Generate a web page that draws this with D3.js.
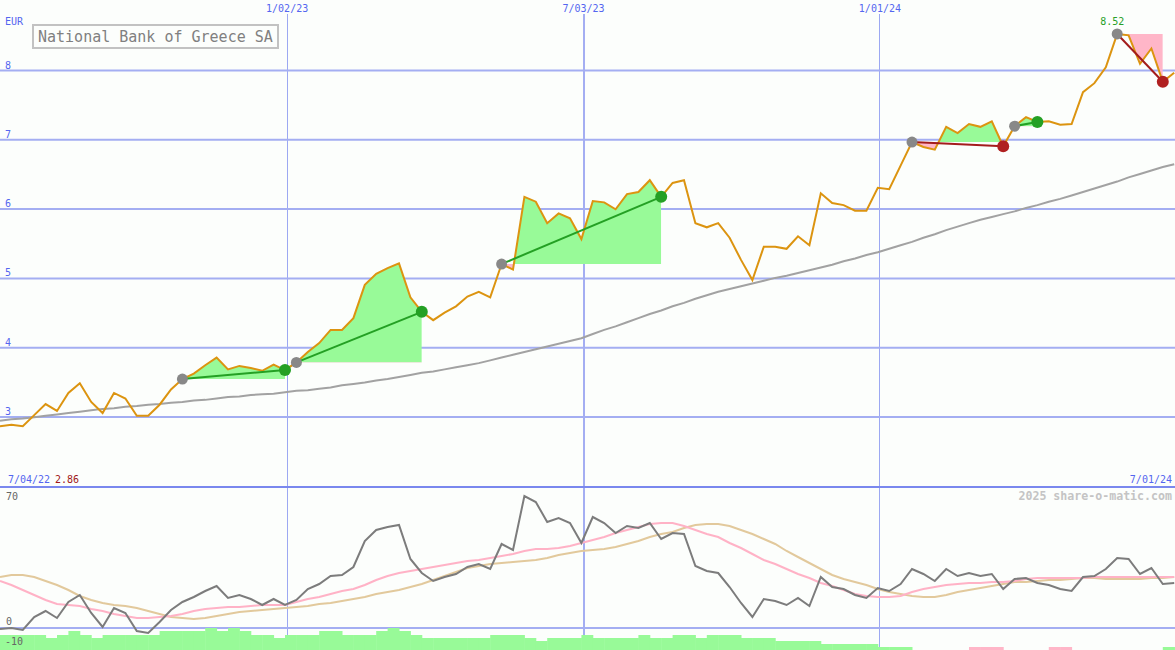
<!DOCTYPE html>
<html>
<head>
<meta charset="utf-8">
<script src="https://cdn.jsdelivr.net/npm/d3@7"></script>
<style>
  html, body { margin: 0; padding: 0; background: #fcfefc; }
  svg { display: block; }
  text { font-family: "DejaVu Sans Mono", monospace; }
</style>
</head>
<body>
<svg id="chart" width="1175" height="650"></svg>
<script>
// ---------------- DATA ----------------
const title = "National Bank of Greece SA";
const currency = "EUR";
const startDateLabel = "7/04/22";
const endDateLabel = "7/01/24";
const minLabel = "2.86";
const maxLabel = "8.52";
const watermark = "2025 share-o-matic.com";

// weekly closing prices (EUR)
const priceValues = [
  2.86,2.88,2.86,3.02,3.18,3.08,3.34,3.48,3.21,3.05,
  3.34,3.26,3.01,3.01,3.17,3.39,3.54,3.62,3.74,3.85,
  3.68,3.73,3.70,3.66,3.75,3.67,3.78,3.93,4.06,4.25,
  4.25,4.42,4.90,5.06,5.14,5.21,4.72,4.51,4.39,4.50,
  4.59,4.73,4.80,4.72,5.20,5.12,6.17,6.10,5.79,5.93,
  5.86,5.56,6.11,6.09,5.99,6.21,6.24,6.41,6.17,6.37,
  6.41,5.79,5.73,5.79,5.58,5.26,4.97,5.45,5.45,5.42,
  5.60,5.47,6.22,6.08,6.05,5.97,5.97,6.30,6.28,6.62,
  6.96,6.89,6.85,7.18,7.09,7.22,7.18,7.26,6.90,7.19,
  7.32,7.25,7.26,7.21,7.22,7.68,7.81,8.04,8.52,8.50,
  8.09,8.31,7.83,7.96
];

// long moving average (grey)
const maValues = [
  2.94,2.96,2.97,2.99,3.01,3.03,3.05,3.07,3.09,3.11,
  3.12,3.14,3.15,3.17,3.18,3.20,3.21,3.23,3.24,3.26,
  3.28,3.29,3.31,3.32,3.33,3.35,3.37,3.38,3.40,3.42,
  3.45,3.47,3.49,3.52,3.54,3.57,3.60,3.63,3.65,3.68,
  3.71,3.74,3.77,3.81,3.85,3.89,3.93,3.97,4.01,4.05,
  4.09,4.13,4.19,4.25,4.30,4.36,4.42,4.48,4.53,4.59,
  4.64,4.70,4.75,4.80,4.84,4.88,4.92,4.96,5.00,5.03,
  5.07,5.11,5.15,5.19,5.24,5.28,5.33,5.37,5.42,5.47,
  5.52,5.58,5.63,5.69,5.74,5.79,5.84,5.88,5.92,5.96,
  6.01,6.05,6.10,6.14,6.19,6.24,6.29,6.34,6.39,6.45,
  6.50,6.55,6.60,6.64
];

// lower panel oscillator (dark grey) and its averages
const oscValues = [
  -0.5,0,-1,5.5,8.5,5,13,16.5,7.5,0.5,
  10,7.5,-1.5,-2.5,3,9,13,15.5,18.5,21,
  15,16.5,14.5,11.5,14.5,11.5,14,19.5,22,26,
  26.5,30.5,43.5,49,50.5,51.5,34.5,27.5,23.5,25.5,
  27,30.5,32,29.5,42,39,66,63,53,55,
  52.5,42.5,55.5,52.5,47.5,51,50,52.5,44.5,47.5,
  47,31,28.5,27.5,20.5,12.5,5.5,14.5,13.5,11.5,
  15,11,25.5,20.5,19.5,16.5,15,20,18.5,22,
  29.5,27,23.5,29.5,26,27.5,26,27,19.5,24.5,
  25,22.5,21.5,19.5,18.5,25.5,26,29.5,35,34.5,
  27,30,22,22.5
];
const oscFastValues = [
  23.5,21.5,19,16.5,14,12,11.5,11,9.5,8.5,
  7,6,5,5,5.5,6,7,8.5,9.5,10,
  10.5,10.5,11,11.5,11.5,11.5,13,14.5,15.5,17,
  18.5,19.5,21.5,24,26,27.5,28.5,29.5,30.5,31.5,
  32.5,33.5,34,35,36,37,38.5,39.5,39.5,40,
  41,42.5,44,45.5,47.5,49,50.5,52,52.5,52.5,
  51,49,47,45.5,42.5,40,37,34,32,29.5,
  27,25,22.5,21,19,17,16,15.5,15.5,16,
  18,19.5,20.5,21.5,22,22.5,22.5,23,23,23.5,
  24.5,25,25,25,25,25,25.5,25.5,25.5,25.5,
  25.5,25.5,25.5,25.5
];
const oscSlowValues = [
  25.5,26.5,26.5,25.5,23.5,21.5,19,16,14,12.5,
  11.5,11,10,8.5,7,5.5,5,4.5,5,6,
  7,8,8.5,9,9.5,10,10.5,11,12,12.5,
  13.5,14.5,15.5,17,18,19,20.5,22,24,26,
  28,30,31,32,32.5,33,33.5,34,35,36.5,
  37.5,38.5,39,39.5,40.5,42,43.5,45.5,47,48,
  50,51.5,52,52,51,49,47,44.5,42,38.5,
  35.5,32.5,29.5,26.5,24.5,23,21.5,19.5,18,17,
  16,15.5,15.5,16.5,18,19,20,21,22,23,
  23,23.5,24,24,24.5,25,25,24.5,24.5,24.5,
  24.5,25,25,25.5
];
// bottom strength bars (positive = green, negative = pink)
const barValues = [
  7.5,7.5,7.5,7.5,6,7.5,9.5,7.5,6,7.5,
  7.5,7.5,7.5,7.5,9.5,9.5,9.5,9.5,11,9.5,
  11,9.5,7.5,7.5,6,7.5,7.5,7.5,9.5,9.5,
  7.5,7.5,7.5,9.5,11,9.5,7.5,6,6,6,
  6,6,6,7.5,7.5,7.5,6,4.5,6,6,
  6,7.5,6,6,6,6,7.5,6,6,7.5,
  7.5,6,7.5,7.5,7.5,6,6,6,4.5,4.5,
  4.5,4.5,3,3,3,3,3,1.5,1.5,1.5,
  0,0,0,0,0,-1.5,-1.5,-1.5,0,0,
  0,0,-1.5,-1.5,0,0,0,0,0,0,
  0,0,1.5,1.5
];

// trade signals (week indices)
const tradeStart = [16, 26, 44, 80, 89, 98];
const tradeEnd   = [25, 37, 58, 88, 91, 102];

// axes
const priceTicks = [3, 4, 5, 6, 7, 8];
const oscTicks = [70, 0, -10];
const dateTicks = ["2023-01-02", "2023-07-03", "2024-01-01"];
const dateTickLabels = ["1/02/23", "7/03/23", "1/01/24"];

// ---------------- DRAW ----------------
const W = 1175, H = 650;
const svg = d3.select("#chart");
svg.append("rect").attr("width", W).attr("height", H).attr("fill", "#fcfefc");

const start = new Date(Date.UTC(2022, 6, 10));
const dates = priceValues.map((_, i) => d3.utcDay.offset(start, 7 * i));
const x = d3.scaleUtc().domain([start, d3.utcDay.offset(start, 728)]).range([0, 1185.6]);
const y = d3.scaleLinear().domain([3, 8]).range([416.5, 70]);
const yl = d3.scaleLinear().domain([0, 70]).range([628, 488]);

const blue = "#5466f0";
const gridCol = "#a4aef2";

// vertical date grid
const tickDates = dateTicks.map(s => new Date(s + "T00:00:00Z"));
const xAxis = d3.axisTop(x).tickValues(tickDates).tickSize(0)
  .tickFormat((d, i) => dateTickLabels[i]);
const gx = svg.append("g").attr("transform", "translate(0,12)").call(xAxis);
gx.select(".domain").remove();
gx.selectAll("text").attr("fill", blue).attr("font-size", 10)
  .attr("font-family", "DejaVu Sans Mono").attr("y", 0).attr("dy", 0);
svg.append("g").selectAll("line").data(tickDates).join("line")
  .attr("x1", d => Math.round(x(d)) + 0.5).attr("x2", d => Math.round(x(d)) + 0.5)
  .attr("y1", 14).attr("y2", H)
  .attr("shape-rendering", "crispEdges")
  .attr("stroke", (d, i) => i === 1 ? gridCol : "#9ca8f2")
  .attr("stroke-width", (d, i) => i === 1 ? 2 : 1);

// horizontal price grid via axis
const yAxis = d3.axisLeft(y).tickValues(priceTicks).tickSize(-W).tickFormat(d3.format("d"));
const gy = svg.append("g").call(yAxis);
gy.select(".domain").remove();
gy.selectAll("line").attr("stroke", gridCol).attr("stroke-width", 2);
gy.selectAll("text").attr("x", 5).attr("dy", -2).attr("text-anchor", "start")
  .attr("fill", blue).attr("font-size", 10).attr("font-family", "DejaVu Sans Mono");

// lower panel lines
svg.append("line").attr("x1", 0).attr("x2", W).attr("y1", yl(0)).attr("y2", yl(0))
  .attr("stroke", gridCol).attr("stroke-width", 2);
svg.append("line").attr("x1", 0).attr("x2", W).attr("y1", yl(70) - 1).attr("y2", yl(70) - 1)
  .attr("stroke", "#7a88ee").attr("stroke-width", 2);

// bottom bars
const barW = x(dates[1]) - x(dates[0]);
svg.append("g").selectAll("rect").data(barValues.map((v, i) => ({v, i})).filter(d => d.v !== 0))
  .join("rect")
  .attr("x", d => x(dates[d.i])).attr("width", barW + 0.5)
  .attr("y", d => yl(-11 + Math.abs(d.v))).attr("height", d => yl(-11) - yl(-11 + Math.abs(d.v)))
  .attr("fill", d => d.v > 0 ? "#98fa98" : "#ffb6c8");

svg.append("g").selectAll("text").data(oscTicks).join("text")
  .attr("x", d => d < 0 ? 5 : 6)
  .attr("y", d => d === 70 ? yl(d) + 12 : yl(d) - 3)
  .attr("fill", "#666").attr("font-size", 10).text(d => d);

// oscillator lines
const lineLow = vals => d3.line().x((d, i) => x(dates[i])).y(d => yl(d))(vals);
svg.append("path").attr("d", lineLow(oscSlowValues)).attr("fill", "none")
  .attr("stroke", "#e2c99c").attr("stroke-width", 2);
svg.append("path").attr("d", lineLow(oscFastValues)).attr("fill", "none")
  .attr("stroke", "#ffb2c6").attr("stroke-width", 2);
svg.append("path").attr("d", lineLow(oscValues)).attr("fill", "none")
  .attr("stroke", "#7c7c7c").attr("stroke-width", 2);

// trade shaded areas
const defs = svg.append("defs");
tradeStart.forEach((s, k) => {
  const e = tradeEnd[k];
  const base = y(priceValues[s]);
  const pts = d3.range(s, e + 1);
  const area = d3.area().x(i => x(dates[i])).y0(base).y1(i => y(priceValues[i]));
  const x0 = x(dates[s]), x1 = x(dates[e]);
  defs.append("clipPath").attr("id", "up" + k).append("rect")
    .attr("x", x0).attr("width", x1 - x0).attr("y", 0).attr("height", base);
  defs.append("clipPath").attr("id", "dn" + k).append("rect")
    .attr("x", x0).attr("width", x1 - x0).attr("y", base).attr("height", 480 - base);
  svg.append("path").attr("d", area(pts)).attr("fill", "#98fa98").attr("clip-path", `url(#up${k})`);
  svg.append("path").attr("d", area(pts)).attr("fill", "#ffb6c8").attr("clip-path", `url(#dn${k})`);
});

// moving average
svg.append("path")
  .attr("d", d3.line().x((d, i) => x(dates[i])).y(d => y(d))(maValues))
  .attr("fill", "none").attr("stroke", "#a2a2a2").attr("stroke-width", 2);

// price line
svg.append("path")
  .attr("d", d3.line().x((d, i) => x(dates[i])).y(d => y(d))(priceValues))
  .attr("fill", "none").attr("stroke", "#dc9410").attr("stroke-width", 2);

// trade lines + markers
tradeStart.forEach((s, k) => {
  const e = tradeEnd[k];
  const win = priceValues[e] >= priceValues[s];
  svg.append("line")
    .attr("x1", x(dates[s])).attr("y1", y(priceValues[s]))
    .attr("x2", x(dates[e])).attr("y2", y(priceValues[e]))
    .attr("stroke", win ? "#24a024" : "#a31c1c").attr("stroke-width", 2);
  svg.append("circle").attr("cx", x(dates[s])).attr("cy", y(priceValues[s])).attr("r", 5.5)
    .attr("fill", "#888");
  svg.append("circle").attr("cx", x(dates[e])).attr("cy", y(priceValues[e])).attr("r", 6)
    .attr("fill", win ? "#24a024" : "#b02020");
});

// max label
const maxIdx = d3.maxIndex(priceValues);
svg.append("text").attr("x", x(dates[maxIdx]) - 5).attr("y", y(priceValues[maxIdx]) - 9)
  .attr("text-anchor", "middle").attr("fill", "#28a028").attr("font-size", 10).text(maxLabel);

// currency label
svg.append("text").attr("x", 5).attr("y", 25).attr("fill", blue).attr("font-size", 10).text(currency);

// title box
svg.append("rect").attr("x", 33).attr("y", 25).attr("width", 245).attr("height", 23)
  .attr("fill", "#fcfefc").attr("stroke", "#c2c2c2").attr("stroke-width", 2);
svg.append("text").attr("x", 38).attr("y", 42).attr("fill", "#808080").attr("font-size", 15)
  .text(title);

// bottom-of-price-panel labels
svg.append("text").attr("x", 8).attr("y", 483).attr("fill", blue).attr("font-size", 10).text(startDateLabel);
svg.append("text").attr("x", 55).attr("y", 483).attr("fill", "#a01818").attr("font-size", 10).text(minLabel);
svg.append("text").attr("x", 1172).attr("y", 483).attr("text-anchor", "end").attr("fill", blue)
  .attr("font-size", 10).text(endDateLabel);
svg.append("text").attr("x", 1172).attr("y", 500).attr("text-anchor", "end").attr("fill", "#c4c4c4")
  .attr("font-size", 11.6).attr("font-weight", "bold").text(watermark);
</script>
</body>
</html>
